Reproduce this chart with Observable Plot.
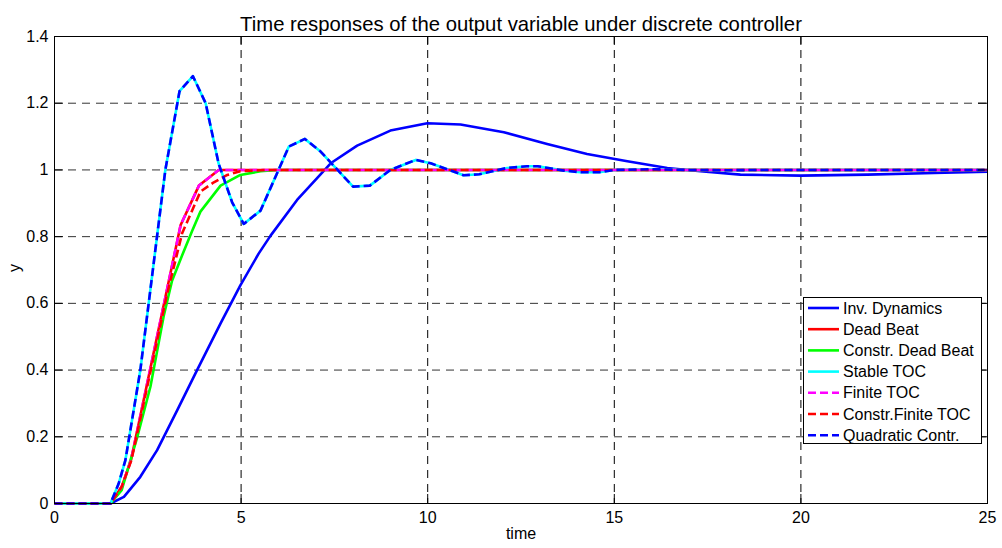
<!DOCTYPE html>
<html>
<head>
<meta charset="utf-8">
<script src="https://cdn.jsdelivr.net/npm/d3@7"></script>
<script src="https://cdn.jsdelivr.net/npm/@observablehq/plot@0.6"></script>
<style>
  html, body { margin: 0; padding: 0; background: white; }
  #wrap { position: relative; width: 1002px; height: 548px; font-family: "Liberation Sans", Arial, sans-serif; }
  #legend { position: absolute; left: 803px; top: 297px; width: 179px; height: 147px; box-sizing: border-box; border: 1px solid black; background: white; }
</style>
</head>
<body>
<div id="wrap"></div>
<script>
// ---- data ----
const titleText = "Time responses of the output variable under discrete controller";
const xTicks = [0, 5, 10, 15, 20, 25];
const xTickLabels = ["0", "5", "10", "15", "20", "25"];
const yTicks = [0, 0.2, 0.4, 0.6, 0.8, 1, 1.2, 1.4];
const yTickLabels = ["0", "0.2", "0.4", "0.6", "0.8", "1", "1.2", "1.4"];

const seriesNames = ["Inv. Dynamics", "Dead Beat", "Constr. Dead Beat", "Stable TOC", "Finite TOC", "Constr.Finite TOC", "Quadratic Contr."];

const invT = [0, 1.5, 1.86, 2.3, 2.75, 3.29, 3.82, 4.45, 4.98, 5.47, 5.79, 6.5, 7.4, 8.11, 9.0, 9.99, 10.88, 12.04, 13.2, 14.27, 15.35, 16.42, 17.31, 18.38, 19.99, 21.78, 23.57, 25];
const invY = [0, 0, 0.02, 0.08, 0.16, 0.28, 0.40, 0.54, 0.654, 0.749, 0.803, 0.91, 1.02, 1.073, 1.118, 1.14, 1.136, 1.113, 1.078, 1.048, 1.026, 1.006, 0.996, 0.986, 0.983, 0.986, 0.991, 0.995];

const dbT = [0, 1.5, 1.8, 2.05, 3.38, 3.87, 4.4, 25];
const dbY = [0, 0, 0.05, 0.13, 0.835, 0.953, 1, 1];

const cdbT = [0, 1.5, 1.8, 2.22, 2.57, 2.93, 3.15, 3.47, 3.69, 3.91, 4.45, 4.98, 5.52, 5.97, 25];
const cdbY = [0, 0, 0.04, 0.2, 0.35, 0.564, 0.668, 0.758, 0.818, 0.875, 0.953, 0.985, 0.996, 1, 1];

const quadT = [0, 1.5, 1.72, 1.9, 2.3, 2.97, 3.35, 3.71, 4.05, 4.40, 4.76, 5.07, 5.52, 6.28, 6.71, 7.13, 8.0, 8.45, 9.0, 9.68, 10.08, 10.96, 11.38, 12.13, 12.66, 12.95, 13.65, 14.1, 14.6, 15.0, 16, 17, 18, 19, 20, 21, 22, 23, 24, 25];
const quadY = [0, 0, 0.06, 0.13, 0.40, 1.0, 1.236, 1.281, 1.2, 1.018, 0.903, 0.838, 0.878, 1.07, 1.093, 1.055, 0.95, 0.953, 1.0, 1.03, 1.02, 0.984, 0.987, 1.006, 1.011, 1.011, 0.998, 0.993, 0.993, 1.0, 1.002, 1.0, 0.999, 1.0, 1.0, 1.0, 1.0, 1.0, 1.0, 1.0];

const stableT = quadT;
const stableY = quadY;

const finT = dbT;
const finY = dbY;

const cfinT = [0, 1.5, 1.8, 2.06, 2.6, 3.0, 3.42, 3.91, 4.27, 4.63, 4.98, 5.7, 25];
const cfinY = [0, 0, 0.05, 0.13, 0.41, 0.62, 0.81, 0.935, 0.963, 0.985, 0.996, 1, 1];

const seriesColors = ["#0000ff", "#ff0000", "#00ff00", "#00ffff", "#ff00ff", "#ff0000", "#0000ff"];
const seriesDashed = [false, false, false, false, true, true, true];

// ---- build ----
const seriesT = [invT, dbT, cdbT, stableT, finT, cfinT, quadT];
const seriesY = [invY, dbY, cdbY, stableY, finY, cfinY, quadY];
const DASH = "8,4";
const LW = 2.6;

const W = 1002, H = 548;
const mL = 54, mR = 15, mT = 36, mB = 45;
const fw = W - mL - mR, fh = H - mT - mB;
const TL = 9;

const lineMarks = seriesT.map((ts, k) => Plot.line(ts.map((t, i) => ({t, y: seriesY[k][i]})), {
  x: "t", y: "y", stroke: seriesColors[k], strokeWidth: LW,
  strokeDasharray: seriesDashed[k] ? DASH : null, strokeLinejoin: "round", strokeLinecap: "butt"
}));

const inner = (arr, a, b) => arr.filter(d => d > a && d < b);

const chart = Plot.plot({
  width: W, height: H,
  marginLeft: mL, marginRight: mR, marginTop: mT, marginBottom: mB,
  style: {fontFamily: "'Liberation Sans', Arial, sans-serif", fontSize: "16px", background: "white", color: "black"},
  x: {domain: [0, 25]},
  y: {domain: [0, 1.4]},
  marks: [
    Plot.ruleX(inner(xTicks, 0, 25), {stroke: "#000", strokeWidth: 1, strokeDasharray: "8,6"}),
    Plot.ruleY(inner(yTicks, 0, 1.4), {stroke: "#333", strokeWidth: 1, strokeDasharray: "8,6"}),
    ...lineMarks,
    Plot.ruleX(xTicks, {stroke: "#000", insetTop: fh - TL}),
    Plot.ruleX(xTicks, {stroke: "#000", insetBottom: fh - TL}),
    Plot.ruleY(yTicks, {stroke: "#000", insetRight: fw - TL}),
    Plot.ruleY(yTicks, {stroke: "#000", insetLeft: fw - TL}),
    Plot.frame({stroke: "#000", strokeWidth: 1}),
    Plot.axisX(xTicks, {tickSize: 0, tickPadding: 8, tickFormat: (d, i) => xTickLabels[xTicks.indexOf(d)], fontSize: 16, label: null}),
    Plot.axisY(yTicks, {tickSize: 0, tickPadding: 6, tickFormat: d => yTickLabels[yTicks.indexOf(d)], fontSize: 16, label: null}),
    Plot.text(["time"], {frameAnchor: "bottom", dy: 35, fontSize: 16}),
    Plot.text(["y"], {frameAnchor: "left", dx: -40, dy: 2, rotate: -90, fontSize: 16}),
    Plot.text([titleText], {frameAnchor: "top", dy: -20, fontSize: 20.3})
  ]
});

const wrap = document.getElementById("wrap");
wrap.appendChild(chart);

// legend
const leg = document.createElement("div");
leg.id = "legend";
const ns = "http://www.w3.org/2000/svg";
const ls = document.createElementNS(ns, "svg");
ls.setAttribute("width", 177); ls.setAttribute("height", 145);
ls.style.display = "block";
seriesNames.forEach((name, k) => {
  const cy = 10 + k * 21.2;
  const ln = document.createElementNS(ns, "line");
  ln.setAttribute("x1", 4); ln.setAttribute("x2", 35);
  ln.setAttribute("y1", cy); ln.setAttribute("y2", cy);
  ln.setAttribute("stroke", seriesColors[k]); ln.setAttribute("stroke-width", LW);
  if (seriesDashed[k]) ln.setAttribute("stroke-dasharray", DASH);
  ls.appendChild(ln);
  const tx = document.createElementNS(ns, "text");
  tx.setAttribute("x", 39); tx.setAttribute("y", cy);
  tx.setAttribute("dominant-baseline", "central");
  tx.setAttribute("font-size", "16px");
  tx.setAttribute("font-family", "'Liberation Sans', Arial, sans-serif");
  tx.textContent = name;
  ls.appendChild(tx);
});
leg.appendChild(ls);
wrap.appendChild(leg);
</script>
</body>
</html>
